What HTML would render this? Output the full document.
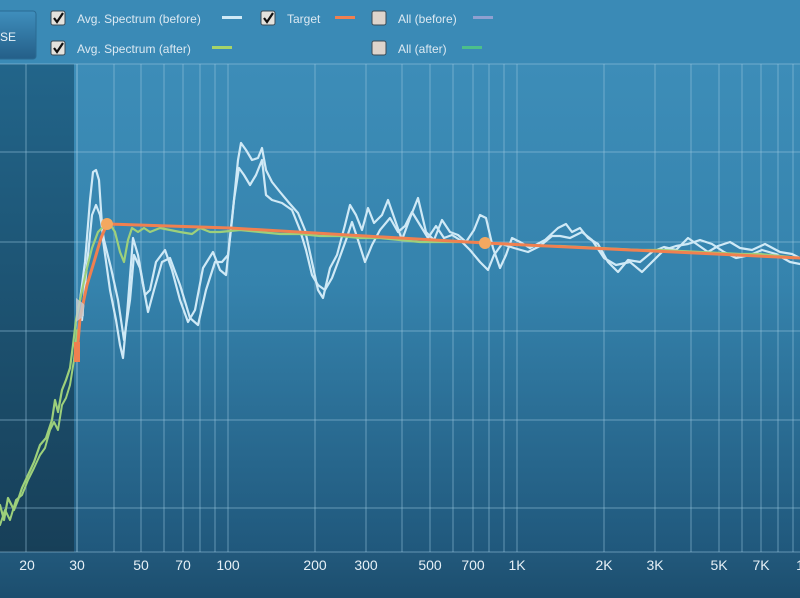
<!DOCTYPE html>
<html><head><meta charset="utf-8"><style>
html,body{margin:0;padding:0;width:800px;height:598px;overflow:hidden;background:#2f7aa5;font-family:"Liberation Sans",sans-serif}
</style></head><body>
<svg width="800" height="598" viewBox="0 0 800 598" xmlns="http://www.w3.org/2000/svg" font-family="Liberation Sans, sans-serif">
<defs>
<linearGradient id="bg" x1="0" y1="0" x2="0" y2="1">
<stop offset="0" stop-color="#3d8db8"/><stop offset="0.45" stop-color="#3583ad"/><stop offset="1" stop-color="#20587c"/>
</linearGradient>
<linearGradient id="dk" x1="0" y1="0" x2="0" y2="1">
<stop offset="0" stop-color="#22658a"/><stop offset="1" stop-color="#173f58"/>
</linearGradient>
<linearGradient id="ft" x1="0" y1="0" x2="0" y2="1">
<stop offset="0" stop-color="#22597c"/><stop offset="1" stop-color="#1c4e6e"/>
</linearGradient>
<linearGradient id="btn" x1="0" y1="0" x2="0" y2="1">
<stop offset="0" stop-color="#3f8fbd"/><stop offset="1" stop-color="#245f88"/>
</linearGradient>
</defs>
<rect width="800" height="598" fill="#3a8ab6"/>
<rect x="0" y="64" width="800" height="488" fill="url(#bg)"/>
<rect x="0" y="64" width="74" height="488" fill="url(#dk)"/>
<rect x="0" y="552" width="800" height="46" fill="url(#ft)"/>
<g stroke="#9cc8e0" stroke-opacity="0.55" stroke-width="1">
<line x1="0" y1="64" x2="800" y2="64"/>
<line x1="0" y1="152" x2="800" y2="152"/>
<line x1="0" y1="242" x2="800" y2="242"/>
<line x1="0" y1="331" x2="800" y2="331"/>
<line x1="0" y1="420" x2="800" y2="420"/>
<line x1="0" y1="508" x2="800" y2="508"/>
<line x1="0" y1="552" x2="800" y2="552"/>
<line x1="26" y1="64" x2="26" y2="552"/>
<line x1="77" y1="64" x2="77" y2="552" stroke-opacity="0.8"/>
<line x1="114" y1="64" x2="114" y2="552"/>
<line x1="141" y1="64" x2="141" y2="552"/>
<line x1="164" y1="64" x2="164" y2="552"/>
<line x1="183" y1="64" x2="183" y2="552"/>
<line x1="200" y1="64" x2="200" y2="552"/>
<line x1="215" y1="64" x2="215" y2="552"/>
<line x1="228" y1="64" x2="228" y2="552"/>
<line x1="315" y1="64" x2="315" y2="552"/>
<line x1="366" y1="64" x2="366" y2="552"/>
<line x1="402" y1="64" x2="402" y2="552"/>
<line x1="430" y1="64" x2="430" y2="552"/>
<line x1="453" y1="64" x2="453" y2="552"/>
<line x1="473" y1="64" x2="473" y2="552"/>
<line x1="489" y1="64" x2="489" y2="552"/>
<line x1="504" y1="64" x2="504" y2="552"/>
<line x1="517" y1="64" x2="517" y2="552"/>
<line x1="604" y1="64" x2="604" y2="552"/>
<line x1="655" y1="64" x2="655" y2="552"/>
<line x1="691" y1="64" x2="691" y2="552"/>
<line x1="719" y1="64" x2="719" y2="552"/>
<line x1="742" y1="64" x2="742" y2="552"/>
<line x1="761" y1="64" x2="761" y2="552"/>
<line x1="778" y1="64" x2="778" y2="552"/>
<line x1="793" y1="64" x2="793" y2="552"/>
</g>
<g fill="none" stroke-linejoin="round" stroke-linecap="round">
<polyline stroke="#cfe9f6" stroke-width="2.2" points="80,300 85,262 90,200 93,172 96,170 99,180 103,240 110,290 116,320 120,345 123,358 127,315 133,238 138,255 145,295 150,290 156,262 165,250 172,270 180,300 188,322 195,310 203,268 213,252 220,270 226,275 232,220 238,160 241,143 246,150 252,160 258,158 262,148 266,170 272,182 280,192 290,204 298,213 305,230 312,262 318,290 323,298 330,268 337,255 345,225 350,205 356,215 362,230 368,208 374,223 382,215 388,200 395,220 402,240 410,218 418,198 426,232 434,240 442,220 450,232 458,235 466,242 474,230 480,215 486,218 493,248 500,268 506,255 512,238 520,242 530,248 545,240 558,228 566,224 572,232 580,228 588,238 598,244 608,262 618,272 628,260 640,262 652,252 664,247 676,250 688,238 698,245 708,252 718,246 730,242 740,248 752,250 765,244 780,252 792,254 800,258"/>
<polyline stroke="#cfe9f6" stroke-width="2.2" points="82,320 86,275 92,215 96,205 100,215 104,240 111,268 118,300 124,340 130,300 134,255 140,268 148,312 154,290 162,262 170,258 180,285 190,318 198,325 206,290 215,262 222,262 228,255 234,200 239,168 244,175 250,185 256,175 262,160 266,195 272,200 282,203 292,210 300,230 306,250 312,275 318,285 325,290 332,278 338,262 346,240 352,222 358,240 365,262 372,245 380,230 390,218 398,232 405,226 412,212 420,225 428,238 436,226 444,238 452,235 460,240 470,250 480,262 488,270 494,255 502,244 514,248 528,252 540,246 552,236 560,236 570,238 582,232 592,240 604,258 616,265 630,262 642,272 652,262 664,250 676,246 688,244 700,240 712,244 724,252 736,258 750,255 762,250 776,254 790,262 800,264"/>
<polyline stroke="#9dd07b" stroke-width="2.2" points="0,505 4,520 8,498 14,510 18,500 22,488 28,475 34,462 40,445 46,438 52,420 55,400 58,412 62,390 66,380 70,368 73,345 76,320 80,300 86,272 92,248 98,232 104,226 110,224 115,232 120,252 124,262 128,240 132,228 138,232 144,228 150,232 160,228 170,230 180,232 192,234 200,228 210,232 220,232 240,230 260,232 280,234 300,234 320,236 340,236 360,238 380,238 400,240 420,242 440,242 460,242 480,242 500,244 520,245 540,246 560,246 580,247 600,248 620,249 640,250 660,250 680,251 700,252 720,253 740,254 760,254 780,256 800,258"/>
<polyline stroke="#9dd07b" stroke-width="2" points="0,525 5,510 10,520 16,500 22,495 28,480 34,468 40,455 45,448 50,430 54,422 58,430 62,405 66,398 70,385 74,360 77,330"/>
<polyline stroke="#f08050" stroke-width="3" points="77,356 80,318 87,285 94,262 101,238 107,224 230,228 485,243 800,258"/>
</g>
<rect x="74" y="342" width="6" height="20" fill="#f08050"/>
<polygon points="76,298 84,304 84,316 76,322" fill="#c8ccd0" opacity="0.8"/>
<circle cx="107" cy="224" r="6" fill="#f4a860"/>
<circle cx="485" cy="243" r="6" fill="#f4a860"/>
<!-- header -->
<rect x="-6" y="11" width="42" height="48" rx="3" fill="url(#btn)" stroke="#2a6b93"/>
<text x="0" y="41" font-size="12" fill="#e8f2f8">SE</text>
<g font-size="12" fill="#dce9f2">
<rect x="51" y="11" width="14" height="14" rx="2" fill="#e4e2dc" stroke="#3a4a55"/>
<path d="M54,18 l3,4 l6,-9" stroke="#111" stroke-width="2.2" fill="none"/>
<text x="77" y="23">Avg. Spectrum (before)</text>
<rect x="222" y="16" width="20" height="3" fill="#cfe9f6"/>
<rect x="261" y="11" width="14" height="14" rx="2" fill="#e4e2dc" stroke="#3a4a55"/>
<path d="M264,18 l3,4 l6,-9" stroke="#111" stroke-width="2.2" fill="none"/>
<text x="287" y="23">Target</text>
<rect x="335" y="16" width="20" height="3" fill="#f08050"/>
<rect x="372" y="11" width="14" height="14" rx="2" fill="#ddd4cc" stroke="#3a4a55"/>
<text x="398" y="23">All (before)</text>
<rect x="473" y="16" width="20" height="3" fill="#8fa0d0"/>
<rect x="51" y="41" width="14" height="14" rx="2" fill="#e4e2dc" stroke="#3a4a55"/>
<path d="M54,48 l3,4 l6,-9" stroke="#111" stroke-width="2.2" fill="none"/>
<text x="77" y="53">Avg. Spectrum (after)</text>
<rect x="212" y="46" width="20" height="3" fill="#a6d468"/>
<rect x="372" y="41" width="14" height="14" rx="2" fill="#ddd4cc" stroke="#3a4a55"/>
<text x="398" y="53">All (after)</text>
<rect x="462" y="46" width="20" height="3" fill="#4cbf8a"/>
</g>
<g font-size="14" fill="#e6f0f6" text-anchor="middle">
<text x="27" y="570">20</text>
<text x="77" y="570">30</text>
<text x="141" y="570">50</text>
<text x="183" y="570">70</text>
<text x="228" y="570">100</text>
<text x="315" y="570">200</text>
<text x="366" y="570">300</text>
<text x="430" y="570">500</text>
<text x="473" y="570">700</text>
<text x="517" y="570">1K</text>
<text x="604" y="570">2K</text>
<text x="655" y="570">3K</text>
<text x="719" y="570">5K</text>
<text x="761" y="570">7K</text>
<text x="800" y="570">1</text>
</g>
</svg>
</body></html>
